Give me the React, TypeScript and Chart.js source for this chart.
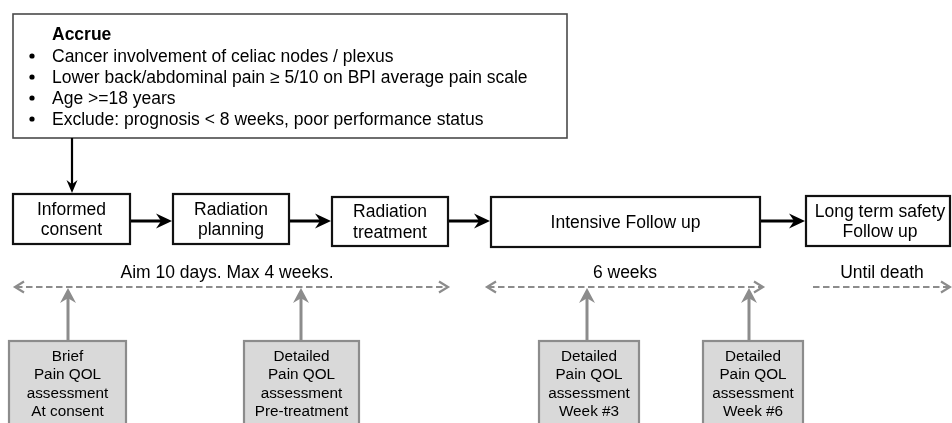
import { useEffect, useRef } from "react";
import { Chart, registerables } from "chart.js";

Chart.register(...registerables);

// ---- content ----
const accrueTitle = "Accrue";
const accrueItems = [
  "Cancer involvement of celiac nodes / plexus",
  "Lower back/abdominal pain \u2265 5/10 on BPI average pain scale",
  "Age >=18 years",
  "Exclude: prognosis < 8 weeks, poor performance status",
];
const stepLabels = [
  ["Informed", "consent"],
  ["Radiation", "planning"],
  ["Radiation", "treatment"],
  ["Intensive Follow up"],
  ["Long term safety", "Follow up"],
];
const spanLabels = ["Aim 10 days. Max 4 weeks.", "6 weeks", "Until death"];
const spanBothEnds = [true, true, false];
const assessmentLabels = [
  ["Brief", "Pain QOL", "assessment", "At consent"],
  ["Detailed", "Pain QOL", "assessment", "Pre-treatment"],
  ["Detailed", "Pain QOL", "assessment", "Week #3"],
  ["Detailed", "Pain QOL", "assessment", "Week #6"],
];

// ---- layout (diagram units on the chart's x / y scales) ----
const accrueBox = { l: 13, r: 567, t: 14, b: 138 };
const accrueTextX = 52;
const accrueBulletX = 32;
const accrueRows = [35, 57, 78, 99, 120];
const stepStart = [13, 173, 332, 491, 806];
const stepEnd = [130, 289, 448, 760, 950];
const stepTop = [194, 194, 197, 197, 196];
const stepBottom = [244, 244, 246, 247, 246];
const stepArrowY = 221;
const spanStart = [15, 487, 812];
const spanEnd = [448, 763, 950];
const spanTextX = [227, 625, 882];
const spanTextY = 273;
const spanLineY = 287;
const assessLeft = [9, 244, 539, 703];
const assessRight = [126, 359, 639, 803];
const assessArrowX = [68, 301, 587, 749];
const assessTop = 341;
const assessRows = [357, 375, 394, 412];

const FONT = "'Liberation Sans', Arial, sans-serif";

function stealthHead(ctx: CanvasRenderingContext2D, tx: number, ty: number, angle: number, len: number, hw: number, color: string) {
  ctx.save();
  ctx.translate(tx, ty);
  ctx.rotate(angle);
  ctx.fillStyle = color;
  ctx.beginPath();
  ctx.moveTo(0, 0);
  ctx.lineTo(-len, -hw);
  ctx.lineTo(-len * 0.68, 0);
  ctx.lineTo(-len, hw);
  ctx.closePath();
  ctx.fill();
  ctx.restore();
}

function chevron(ctx: CanvasRenderingContext2D, tx: number, ty: number, dir: number, color: string) {
  ctx.save();
  ctx.setLineDash([]);
  ctx.strokeStyle = color;
  ctx.lineWidth = 2.2;
  ctx.beginPath();
  ctx.moveTo(tx - dir * 9, ty - 5.5);
  ctx.lineTo(tx, ty);
  ctx.lineTo(tx - dir * 9, ty + 5.5);
  ctx.stroke();
  ctx.restore();
}

const diagramPlugin = {
  id: "diagram",
  afterDraw(chart: any) {
    const ctx: CanvasRenderingContext2D = chart.ctx;
    const xs = chart.scales.x;
    const ys = chart.scales.y;
    const X = (v: number) => xs.getPixelForValue(v);
    const Y = (v: number) => ys.getPixelForValue(v);
    ctx.save();
    ctx.textAlign = "center";
    ctx.textBaseline = "middle";

    // Accrue box
    ctx.strokeStyle = "#4a4a4a";
    ctx.lineWidth = 1.6;
    ctx.strokeRect(X(accrueBox.l), Y(accrueBox.t), X(accrueBox.r) - X(accrueBox.l), Y(accrueBox.b) - Y(accrueBox.t));
    ctx.fillStyle = "#000";
    ctx.textAlign = "left";
    ctx.font = "bold 17.5px " + FONT;
    ctx.fillText(accrueTitle, X(accrueTextX), Y(accrueRows[0]));
    ctx.font = "17.5px " + FONT;
    accrueItems.forEach((t, i) => {
      const y = Y(accrueRows[i + 1]);
      ctx.beginPath();
      ctx.arc(X(accrueBulletX), y - 1, 2.6, 0, Math.PI * 2);
      ctx.fill();
      ctx.fillText(t, X(accrueTextX), y);
    });
    ctx.textAlign = "center";

    // Arrow from accrue box down to first step
    ctx.strokeStyle = "#000";
    ctx.lineWidth = 2.2;
    ctx.beginPath();
    ctx.moveTo(X(72), Y(accrueBox.b));
    ctx.lineTo(X(72), Y(stepTop[0]) - 8);
    ctx.stroke();
    stealthHead(ctx, X(72), Y(stepTop[0]) - 1, Math.PI / 2, 13, 5.5, "#000");

    // Step boxes
    stepLabels.forEach((lines, i) => {
      const l = X(stepStart[i]), r = X(stepEnd[i]), t = Y(stepTop[i]), b = Y(stepBottom[i]);
      ctx.fillStyle = "#fff";
      ctx.fillRect(l, t, r - l, b - t);
      ctx.strokeStyle = "#111";
      ctx.lineWidth = 2.2;
      ctx.strokeRect(l, t, r - l, b - t);
      ctx.fillStyle = "#000";
      ctx.font = "17.5px " + FONT;
      const cx = (l + r) / 2 + (i === 4 ? 2 : 0);
      const cy = (t + b) / 2;
      const lh = 20.5;
      lines.forEach((s, k) => {
        ctx.fillText(s, cx, cy + (k - (lines.length - 1) / 2) * lh + 1);
      });
    });

    // Black arrows between steps
    for (let i = 0; i < stepLabels.length - 1; i++) {
      const x0 = X(stepEnd[i]) + 1;
      const x1 = X(stepStart[i + 1]) - 1;
      const y = Y(stepArrowY);
      ctx.strokeStyle = "#000";
      ctx.lineWidth = 3.2;
      ctx.beginPath();
      ctx.moveTo(x0, y);
      ctx.lineTo(x1 - 8, y);
      ctx.stroke();
      stealthHead(ctx, x1, y, 0, 16, 7.5, "#000");
    }

    // Span labels and dashed arrows
    const grey = "#8c8c8c";
    spanLabels.forEach((s, i) => {
      ctx.fillStyle = "#000";
      ctx.font = "17.5px " + FONT;
      ctx.fillText(s, X(spanTextX[i]), Y(spanTextY));
      const y = Y(spanLineY);
      const x0 = X(spanStart[i]);
      const x1 = X(spanEnd[i]);
      ctx.save();
      ctx.strokeStyle = grey;
      ctx.lineWidth = 2.2;
      ctx.setLineDash([6.5, 3.5]);
      ctx.beginPath();
      ctx.moveTo(x0 + 1, y);
      ctx.lineTo(x1 - 1, y);
      ctx.stroke();
      ctx.restore();
      chevron(ctx, x1, y, 1, grey);
      if (spanBothEnds[i]) chevron(ctx, x0, y, -1, grey);
    });

    // Assessment boxes
    assessmentLabels.forEach((lines, i) => {
      const l = X(assessLeft[i]), r = X(assessRight[i]), t = Y(assessTop), b = Y(440);
      ctx.fillStyle = "#d9d9d9";
      ctx.fillRect(l, t, r - l, b - t);
      ctx.strokeStyle = grey;
      ctx.lineWidth = 2.2;
      ctx.strokeRect(l, t, r - l, b - t);
      ctx.fillStyle = "#000";
      ctx.font = "15.3px " + FONT;
      const cx = (l + r) / 2;
      lines.forEach((s, k) => ctx.fillText(s, cx, Y(assessRows[k])));
      // grey up arrow
      const ax = X(assessArrowX[i]);
      ctx.strokeStyle = grey;
      ctx.lineWidth = 3;
      ctx.beginPath();
      ctx.moveTo(ax, t - 1);
      ctx.lineTo(ax, Y(spanLineY + 1) + 10);
      ctx.stroke();
      stealthHead(ctx, ax, Y(spanLineY + 1), -Math.PI / 2, 15, 8, grey);
    });

    ctx.restore();
  },
};

export default function App() {
  const ref = useRef<HTMLCanvasElement>(null);
  useEffect(() => {
    document.body.style.margin = "0";
    const chart = new Chart(ref.current as HTMLCanvasElement, {
      type: "scatter",
      data: { datasets: [{ data: [] }] },
      options: {
        animation: false,
        responsive: false,
        devicePixelRatio: 1,
        events: [],
        layout: { padding: 0 },
        plugins: { legend: { display: false }, tooltip: { enabled: false } },
        scales: {
          x: { type: "linear", min: 0, max: 952, display: false },
          y: { type: "linear", min: 0, max: 423, reverse: true, display: false },
        },
      },
      plugins: [diagramPlugin],
    } as any);
    return () => chart.destroy();
  }, []);
  return (
    <div style={{ position: "absolute", left: 0, top: 0, width: 952, height: 423, background: "#fff" }}>
      <canvas ref={ref} width={952} height={423} style={{ width: 952, height: 423, display: "block" }} />
    </div>
  );
}
